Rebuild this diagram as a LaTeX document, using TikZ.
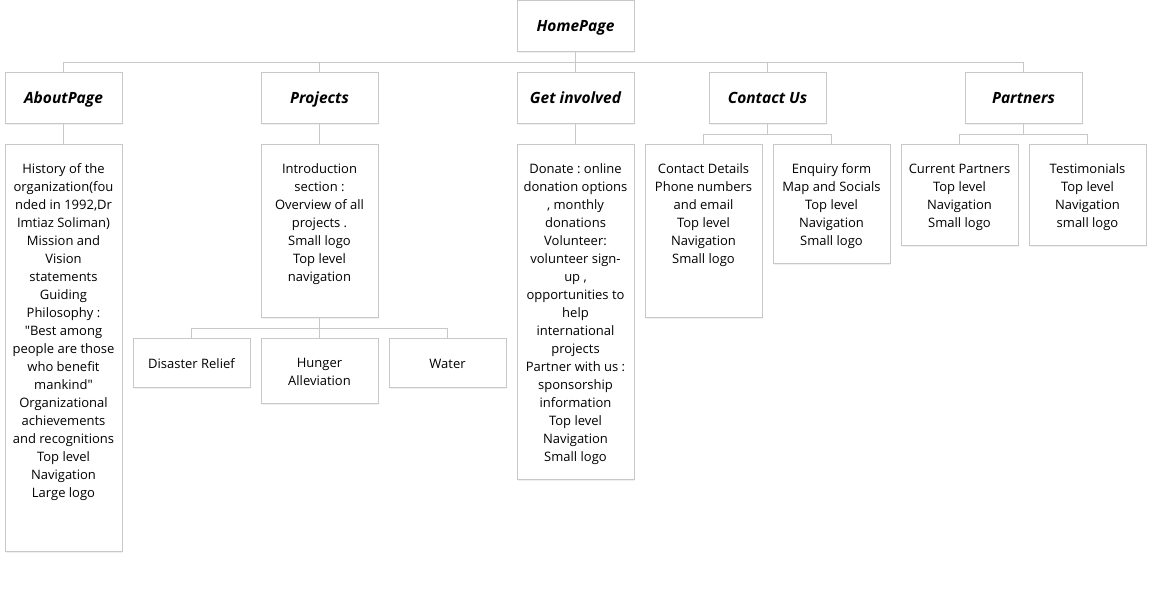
\documentclass[tikz,border=0pt]{standalone}
\usepackage{fontspec}
\setmainfont{Open Sans}
\usetikzlibrary{shadows}
\frenchspacing
\definecolor{edge}{HTML}{C8C8C8}
\newcommand{\dtext}[2]{\parbox[c][#1][t]{117pt}{\frenchspacing\vspace*{16.5pt}\centering\rule{0pt}{12.5pt}#2\par}}
\tikzset{
  base/.style={draw=edge, line width=0.9pt, fill=white, inner sep=0pt,
    drop shadow={opacity=0.12, shadow xshift=1pt, shadow yshift=-2pt}},
  titlebox/.style={base, minimum width=117pt, minimum height=51pt,
    text height=11pt, text depth=0pt,
    font=\fontsize{15.5}{18}\selectfont\bfseries\itshape},
  detail/.style={base, anchor=north, font=\fontsize{13}{18}\selectfont},
  leaf/.style={base, anchor=north, minimum width=117pt, align=center,
    font=\fontsize{13}{18}\selectfont},
  link/.style={draw=edge, line width=0.9pt}
}
\begin{document}
\begin{tikzpicture}[x=1pt,y=-1pt]
\useasboundingbox (0,0) rectangle (1157,592);
% level 0
\node[titlebox] (home) at (575.5,25.5) {HomePage};
% level 1
\node[titlebox] (about) at (63.5,97.5) {AboutPage};
\node[titlebox] (proj) at (319.5,97.5) {Projects};
\node[titlebox] (inv) at (575.5,97.5) {Get involved};
\node[titlebox] (cont) at (767.5,97.5) {Contact Us};
\node[titlebox] (part) at (1023.5,97.5) {Partners};
% details
\node[detail] (aboutd) at (63.5,144) {\dtext{407pt}{History of the\\organization(fou\\nded in 1992,Dr\\Imtiaz Soliman)\\Mission and\\Vision\\statements\\Guiding\\Philosophy :\\\textquotedbl Best among\\people are those\\who benefit\\mankind\textquotedbl\\Organizational\\achievements\\and recognitions\\Top level\\Navigation\\Large logo}};
\node[detail] (projd) at (319.5,144) {\dtext{173pt}{Introduction\\section :\\Overview of all\\projects .\\Small logo\\Top level\\navigation}};
\node[detail] (invd) at (575.5,144) {\dtext{335pt}{Donate : online\\donation options\\, monthly\\donations\\Volunteer:\\volunteer sign-\\up ,\\opportunities to\\help\\international\\projects\\Partner with us :\\sponsorship\\information\\Top level\\Navigation\\Small logo}};
\node[detail] (contd) at (703.5,144) {\dtext{173pt}{Contact Details\\Phone numbers\\and email\\Top level\\Navigation\\Small logo}};
\node[detail] (enq) at (831.5,144) {\dtext{119pt}{Enquiry form\\Map and Socials\\Top level\\Navigation\\Small logo}};
\node[detail] (curp) at (959.5,144) {\dtext{101pt}{Current Partners\\Top level\\Navigation\\Small logo}};
\node[detail] (test) at (1087.5,144) {\dtext{101pt}{Testimonials\\Top level\\Navigation\\small logo}};
% project sub-pages
\node[leaf, minimum height=49pt] (dis) at (191.5,338) {\rule{0pt}{11pt}Disaster Relief};
\node[leaf, minimum height=65pt] (hung) at (319.5,338) {\rule{0pt}{11pt}Hunger\\Alleviation};
\node[leaf, minimum height=49pt] (wat) at (447.5,338) {\rule{0pt}{11pt}Water};
% connectors
\foreach \n in {about,proj,inv,cont,part}
  \draw[link] (home.south) -- ++(0,11) -| (\n.north);
\draw[link] (about.south) -- (aboutd.north);
\draw[link] (proj.south) -- (projd.north);
\draw[link] (inv.south) -- (invd.north);
\foreach \n in {contd,enq}
  \draw[link] (cont.south) -- ++(0,11) -| (\n.north);
\foreach \n in {curp,test}
  \draw[link] (part.south) -- ++(0,11) -| (\n.north);
\foreach \n in {dis,hung,wat}
  \draw[link] (projd.south) -- ++(0,11) -| (\n.north);
\end{tikzpicture}
\end{document}
